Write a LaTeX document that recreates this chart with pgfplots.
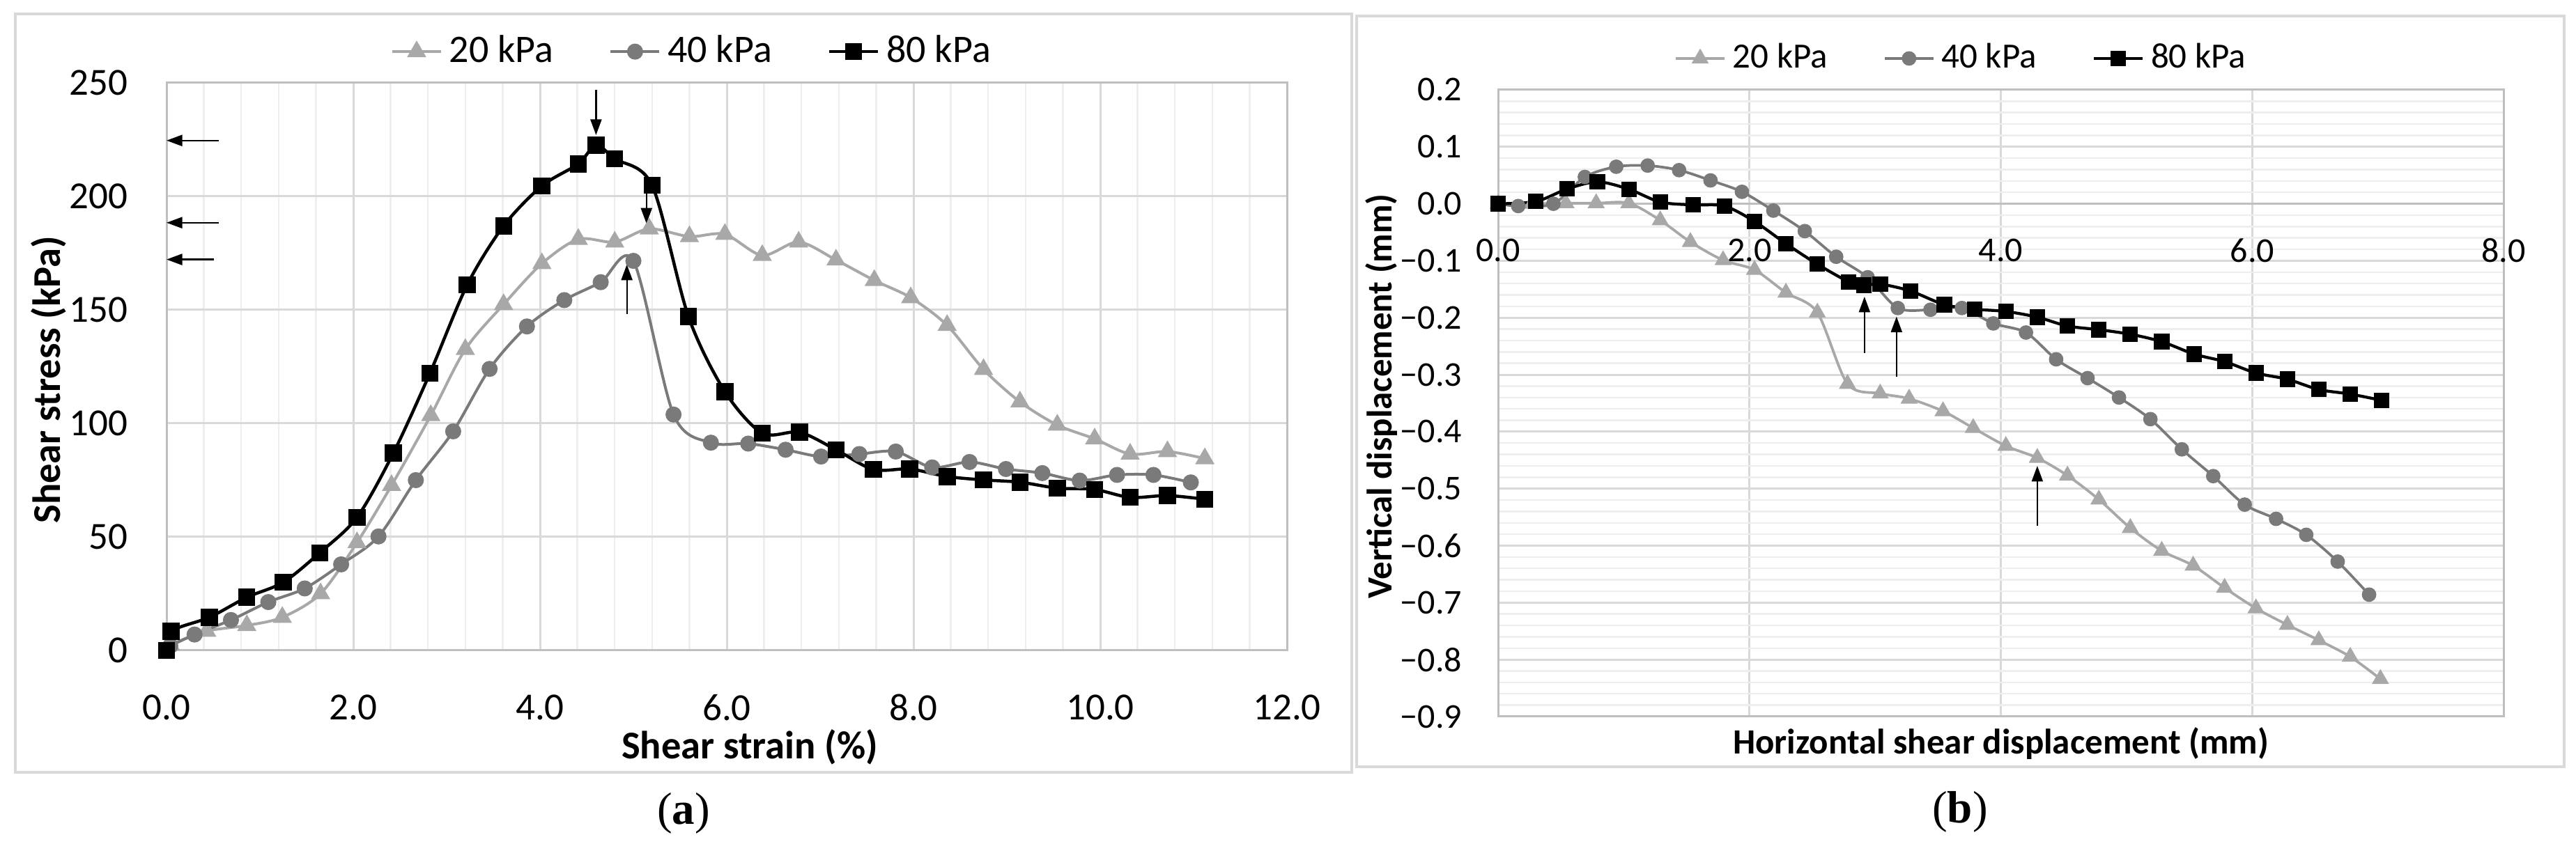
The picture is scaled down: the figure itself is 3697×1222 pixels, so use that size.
\documentclass[border=0pt]{standalone}
\usepackage{fontspec}
\setmainfont{Carlito}
\newfontfamily\capfont{Liberation Serif}
\usepackage{pgfplots}
\pgfplotsset{compat=1.18}
\usetikzlibrary{arrows.meta}
\definecolor{cA}{HTML}{A8A8A8}
\definecolor{cB}{HTML}{7A7A7A}
\definecolor{gmaj}{HTML}{D9D9D9}
\definecolor{gmin}{HTML}{EEEEEE}
\definecolor{frm}{HTML}{D9D9D9}
\definecolor{axl}{HTML}{BFBFBF}
\tikzset{arr/.style={-{Triangle[length=4.5pt,width=3.2pt]}, line width=0.45pt, black}}
\pgfplotsset{
  exstyle/.style={
    scale only axis, anchor=south west, clip=false,
    grid=both,
    major grid style={gmaj, line width=0.6pt},
    minor grid style={gmin, line width=0.5pt},
    axis line style={draw=axl, line width=0.6pt},
    major tick length=0pt, minor tick length=0pt,
    legend style={draw=none, fill=none, legend columns=3,
      /tikz/every even column/.append style={column sep=14pt}},
    legend image code/.code={\draw[mark repeat=2,mark phase=2] plot coordinates {(0pt,0pt) (7pt,0pt) (14pt,0pt)};},
  },
}
\begin{document}
\begin{tikzpicture}[x=0.2pt,y=0.2pt]
\path[use as bounding box] (0,0) rectangle (3697,1222);
\draw[frm, line width=0.7pt] (22,1202) rectangle (1940,113);
\draw[frm, line width=0.7pt] (1947,1199) rectangle (3680,121);
\node[font=\capfont\fontsize{13}{15}\selectfont] at (981,54) {(\textbf{a})};
\node[font=\capfont\fontsize{13}{15}\selectfont] at (2813,56) {(\textbf{b})};

% ---------------- panel (a)
\begin{axis}[exstyle,
  at={(47.8pt,57.6pt)}, width=321.6pt, height=163pt,
  xmin=0, xmax=12, ymin=0, ymax=250,
  xtick={0,2,4,6,8,10,12}, xticklabels={0.0,2.0,4.0,6.0,8.0,10.0,12.0},
  minor x tick num=4,
  ytick={0,50,100,150,200,250}, yticklabels={0,50,100,150,200,250},
  tick label style={font=\fontsize{11}{13}\selectfont},
  xticklabel style={anchor=center, yshift=-16.4pt},
  yticklabel style={anchor=east, inner sep=0pt, xshift=-11pt},
  xlabel={\textbf{Shear strain (\%)}},
  xlabel style={at={(axis description cs:0.5205,-0.1706)}, anchor=center, font=\fontsize{11.3}{13}\selectfont},
  ylabel={\textbf{Shear stress (kPa)}},
  ylabel style={at={(axis description cs:-0.1051,0.477)}, anchor=center, font=\fontsize{11.3}{13}\selectfont},
  legend style={at={(axis description cs:0.471,1.055)}, anchor=center, font=\fontsize{11.2}{13}\selectfont},
]
\addplot[cA, line width=0.8pt, smooth, mark=triangle*, mark size=2.4pt, mark options={solid}] coordinates {
(0.04,2.5) (0.43,8.5) (0.86,11) (1.24,14.6) (1.65,25) (2.04,47.5) (2.41,72.7) (2.83,103.5) (3.2,132.6) (3.61,152.4) (4.02,170.4) (4.41,181.1) (4.8,179.9) (5.17,185.7) (5.6,182.3) (5.98,183.3) (6.38,174) (6.77,179.9) (7.17,172) (7.58,163) (7.97,155.4) (8.36,143.2) (8.75,123.8) (9.14,109.5) (9.54,99.3) (9.94,93.2) (10.32,86.5) (10.72,87.6) (11.12,84.5)};
\addlegendentry{20 kPa}
\addplot[cB, line width=0.8pt, smooth, mark=*, mark size=1.9pt, mark options={solid}] coordinates {
(0.04,2) (0.3,7) (0.69,13.4) (1.09,21.3) (1.48,27.3) (1.87,37.9) (2.27,50.2) (2.67,75) (3.07,96.5) (3.46,124) (3.86,142.7) (4.26,154.3) (4.65,162.2) (5.0,171.6) (5.43,103.9) (5.83,91.5) (6.23,91.1) (6.63,88.4) (7.01,85.4) (7.42,86.5) (7.81,87.6) (8.2,80.6) (8.6,83) (8.99,79.9) (9.38,78.1) (9.78,74.8) (10.18,77.3) (10.57,77.3) (10.97,74)};
\addlegendentry{40 kPa}
\addplot[black, line width=0.9pt, smooth, mark=square*, mark size=2.0pt, mark options={solid}] coordinates {
(0,0) (0.05,8.5) (0.46,14.6) (0.86,23.4) (1.25,30) (1.64,43) (2.04,58.6) (2.43,87) (2.82,122) (3.22,161) (3.61,187) (4.02,204.6) (4.41,214.3) (4.6,222.6) (4.8,216.5) (5.2,204.9) (5.59,147) (5.98,114) (6.38,95.7) (6.78,96.1) (7.17,88.4) (7.57,79.7) (7.96,79.9) (8.36,76.6) (8.75,75.1) (9.14,74.1) (9.54,71.5) (9.94,70.9) (10.32,67.4) (10.72,68.2) (11.12,66.6)};
\addlegendentry{80 kPa}
\draw[arr] (axis cs:4.6,247) -- (axis cs:4.6,227);
\draw[arr] (axis cs:5.14,204) -- (axis cs:5.14,188);
\draw[arr] (axis cs:4.93,148) -- (axis cs:4.93,170);
\draw[arr] (axis cs:0.56,224.6) -- (axis cs:0,224.6);
\draw[arr] (axis cs:0.56,188.4) -- (axis cs:0,188.4);
\draw[arr] (axis cs:0.51,172.2) -- (axis cs:0,172.2);
\end{axis}

% ---------------- panel (b)
\begin{axis}[exstyle,
  at={(430pt,38.6pt)}, width=288.6pt, height=180pt,
  xmin=0, xmax=8, ymin=-0.9, ymax=0.2,
  xtick={0,2,4,6,8}, xticklabels={0.0,2.0,4.0,6.0,8.0},
  ytick={-0.9,-0.8,-0.7,-0.6,-0.5,-0.4,-0.3,-0.2,-0.1,0,0.1,0.2},
  yticklabels={−0.9,−0.8,−0.7,−0.6,−0.5,−0.4,−0.3,−0.2,−0.1,0.0,0.1,0.2},
  minor y tick num=4,
  tick label style={font=\fontsize{10}{12}\selectfont},
  xticklabel style={anchor=center, yshift=133.8pt},
  yticklabel style={anchor=east, inner sep=0pt, xshift=-10.2pt},
  xlabel={\textbf{Horizontal shear displacement (mm)}},
  xlabel style={at={(axis description cs:0.5,-0.0433)}, anchor=center, font=\fontsize{10.2}{12}\selectfont},
  ylabel={\textbf{Vertical displacement (mm)}},
  ylabel style={at={(axis description cs:-0.1164,0.511)}, anchor=center, font=\fontsize{10.2}{12}\selectfont},
  legend style={at={(axis description cs:0.463,1.05)}, anchor=center, font=\fontsize{10.2}{12}\selectfont},
]
\draw[axl, line width=0.7pt] (axis cs:0,0) -- (axis cs:8,0);
\addplot[cA, line width=0.75pt, smooth, mark=triangle*, mark size=2.1pt, mark options={solid}] coordinates {
(0,0) (0.27,0) (0.54,0.001) (0.78,0.001) (1.04,0.001) (1.29,-0.029) (1.53,-0.067) (1.79,-0.099) (2.04,-0.116) (2.29,-0.156) (2.54,-0.191) (2.78,-0.316) (3.04,-0.333) (3.27,-0.342) (3.54,-0.364) (3.78,-0.3935) (4.04,-0.425) (4.29,-0.446) (4.53,-0.477) (4.78,-0.519) (5.03,-0.569) (5.28,-0.609) (5.53,-0.635) (5.78,-0.674) (6.03,-0.710) (6.28,-0.739) (6.53,-0.766) (6.78,-0.795) (7.02,-0.834)};
\addlegendentry{20 kPa}
\addplot[cB, line width=0.75pt, smooth, mark=*, mark size=1.7pt, mark options={solid}] coordinates {
(0,0) (0.16,-0.004) (0.44,0) (0.69,0.047) (0.94,0.065) (1.19,0.067) (1.44,0.059) (1.69,0.041) (1.94,0.021) (2.19,-0.012) (2.44,-0.048) (2.69,-0.093) (2.94,-0.129) (3.18,-0.183) (3.44,-0.186) (3.69,-0.183) (3.94,-0.210) (4.2,-0.226) (4.44,-0.273) (4.69,-0.306) (4.94,-0.340) (5.19,-0.378) (5.44,-0.431) (5.69,-0.478) (5.94,-0.528) (6.19,-0.553) (6.43,-0.581) (6.68,-0.628) (6.93,-0.686)};
\addlegendentry{40 kPa}
\addplot[black, line width=0.85pt, smooth, mark=square*, mark size=1.8pt, mark options={solid}] coordinates {
(0,0) (0.30,0.004) (0.55,0.026) (0.79,0.0385) (1.04,0.0256) (1.29,0.003) (1.55,-0.002) (1.80,-0.004) (2.04,-0.031) (2.29,-0.070) (2.54,-0.106) (2.79,-0.137) (2.91,-0.143) (3.04,-0.141) (3.28,-0.153) (3.55,-0.177) (3.79,-0.185) (4.04,-0.189) (4.29,-0.199) (4.53,-0.2145) (4.78,-0.221) (5.03,-0.229) (5.28,-0.242) (5.54,-0.264) (5.78,-0.277) (6.03,-0.297) (6.28,-0.308) (6.53,-0.326) (6.78,-0.334) (7.03,-0.345)};
\addlegendentry{80 kPa}
\draw[arr] (axis cs:2.915,-0.262) -- (axis cs:2.915,-0.163);
\draw[arr] (axis cs:3.17,-0.303) -- (axis cs:3.17,-0.198);
\draw[arr] (axis cs:4.29,-0.565) -- (axis cs:4.29,-0.46);
\end{axis}
\end{tikzpicture}
\end{document}
